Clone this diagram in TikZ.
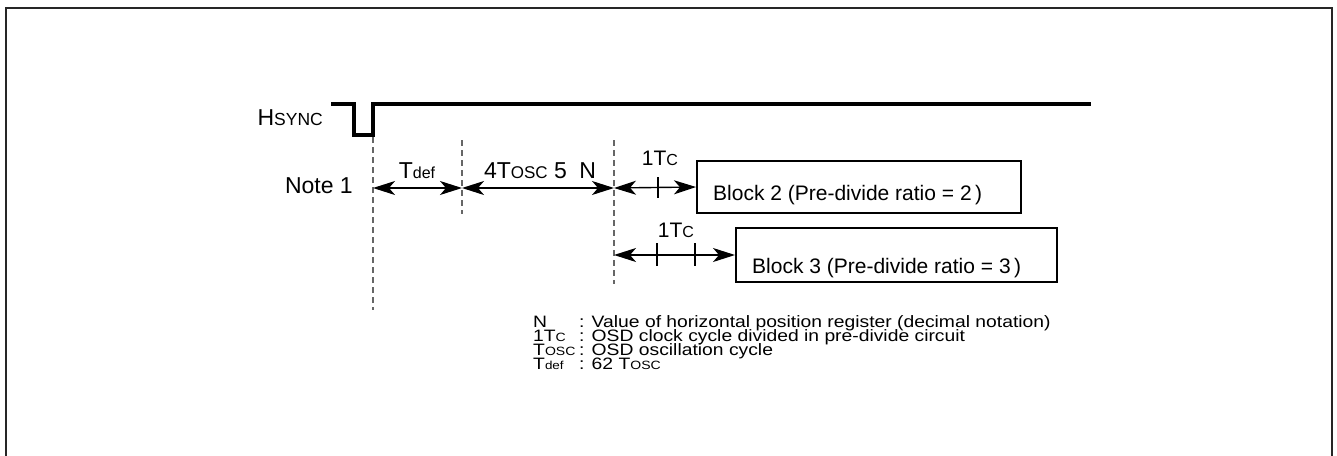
\documentclass[tikz,border=0pt]{standalone}
\usepackage{fontspec}
\setmainfont{Liberation Sans}
\usetikzlibrary{arrows.meta}
\newcommand\fsz[1]{\fontsize{#1}{#1}\selectfont}
\newcommand\wide[1]{\scalebox{1.17}[1]{#1}}
\begin{document}
\begin{tikzpicture}[x=1pt,y=-1pt,
  frame/.style={line width=2.5pt,draw=black!85},
  sig/.style={line width=3.5pt,line join=miter,line cap=butt},
  guide/.style={line width=1.3pt,draw=black!60,dash pattern=on 6pt off 4pt},
  tip/.tip={Stealth[length=22pt,width=14pt,inset=6pt]},
  dim/.style={line width=1.4pt,tip-tip},
  tick/.style={line width=1.2pt},
  blockbox/.style={draw,line width=2pt,inner sep=0pt},
  lbl/.style={inner sep=0pt,font=\fsz{23}},
  btxt/.style={inner sep=0pt,anchor=base west,font=\fsz{21}},
  leg/.style={inner sep=0pt,anchor=base west,font=\fsz{16.5}}
]
\useasboundingbox (0,0) rectangle (1337,455);
\draw[frame] (6,470) -- (6,8) -- (1332,8) -- (1332,470);

% HSYNC signal
\coordinate (s0) at (331,104);
\coordinate (s1) at (354,104);
\coordinate (s2) at (354,135);
\coordinate (s3) at (373,135);
\coordinate (s4) at (373,104);
\coordinate (s5) at (1091,104);
\draw[sig] (s0) -- (s1) -- (s2) -- (s3) -- (s4) -- (s5);
\node[lbl,anchor=base east] (hs) at (323,125) {H{\fsz{17.5}SYNC}};

% guide lines
\coordinate (g1a) at (373,137); \coordinate (g1b) at (373,310);
\coordinate (g2a) at (462,140); \coordinate (g2b) at (462,214);
\coordinate (g3a) at (614,140); \coordinate (g3b) at (614,284);
\draw[guide] (g1a) -- (g1b);
\draw[guide] (g2a) -- (g2b);
\draw[guide] (g3a) -- (g3b);

% boxes
\node[blockbox,minimum width=324pt,minimum height=52pt] (b2) at (859,187) {};
\node[blockbox,minimum width=321pt,minimum height=54pt] (b3) at (896.5,255) {};
\node[btxt] (b2t) at (713,200) {Block 2 (Pre-divide ratio = 2\,)};
\node[btxt] (b3t) at (752,273) {Block 3 (Pre-divide ratio = 3\,)};

% row 1 dimensions
\coordinate (r1a) at (373,188);
\coordinate (r1b) at (462,188);
\coordinate (r1c) at (614,188);
\draw[dim] (r1a) -- (r1b);
\draw[dim] (r1b) -- (r1c);
\draw[dim] (r1c) -- (b2.west);
\coordinate (t1a) at (658,177); \coordinate (t1b) at (658,198);
\draw[tick] (t1a) -- (t1b);

% row 2 dimensions
\coordinate (r2a) at (614,255);
\draw[dim] (r2a) -- (b3.west);
\coordinate (t2a) at (657,243); \coordinate (t2b) at (657,266);
\coordinate (t3a) at (695,243); \coordinate (t3b) at (695,266);
\draw[tick] (t2a) -- (t2b);
\draw[tick] (t3a) -- (t3b);

% labels
\node[lbl,anchor=base east] (note) at (353,193) {Note 1};
\node[lbl,anchor=base] (tdef) at (417,178) {T{\fsz{16}def}};
\node[lbl,anchor=base] (tosc) at (540,178) {4T{\fsz{17}OSC} 5\hspace{6pt} N};
\node[lbl,anchor=base,font=\fsz{21}] (tc1) at (660,165) {1T{\fsz{16}C}};
\node[lbl,anchor=base,font=\fsz{21}] (tc2) at (676,237) {1T{\fsz{16}C}};

% legend
\node[leg] (l1a) at (533,327) {\wide{N}};
\node[leg] (l2a) at (533,341) {\wide{1T{\fsz{12}C}}};
\node[leg] (l3a) at (533,355) {\wide{T{\fsz{12}OSC}}};
\node[leg] (l4a) at (533,369) {\wide{T{\fsz{11.5}def}}};
\node[leg] (l1b) at (579,327) {\wide{: Value of horizontal position register (decimal notation)}};
\node[leg] (l2b) at (579,341) {\wide{: OSD clock cycle divided in pre-divide circuit}};
\node[leg] (l3b) at (579,355) {\wide{: OSD oscillation cycle}};
\node[leg] (l4b) at (579,369) {\wide{: 62 T{\fsz{12}OSC}}};
\end{tikzpicture}
\end{document}
